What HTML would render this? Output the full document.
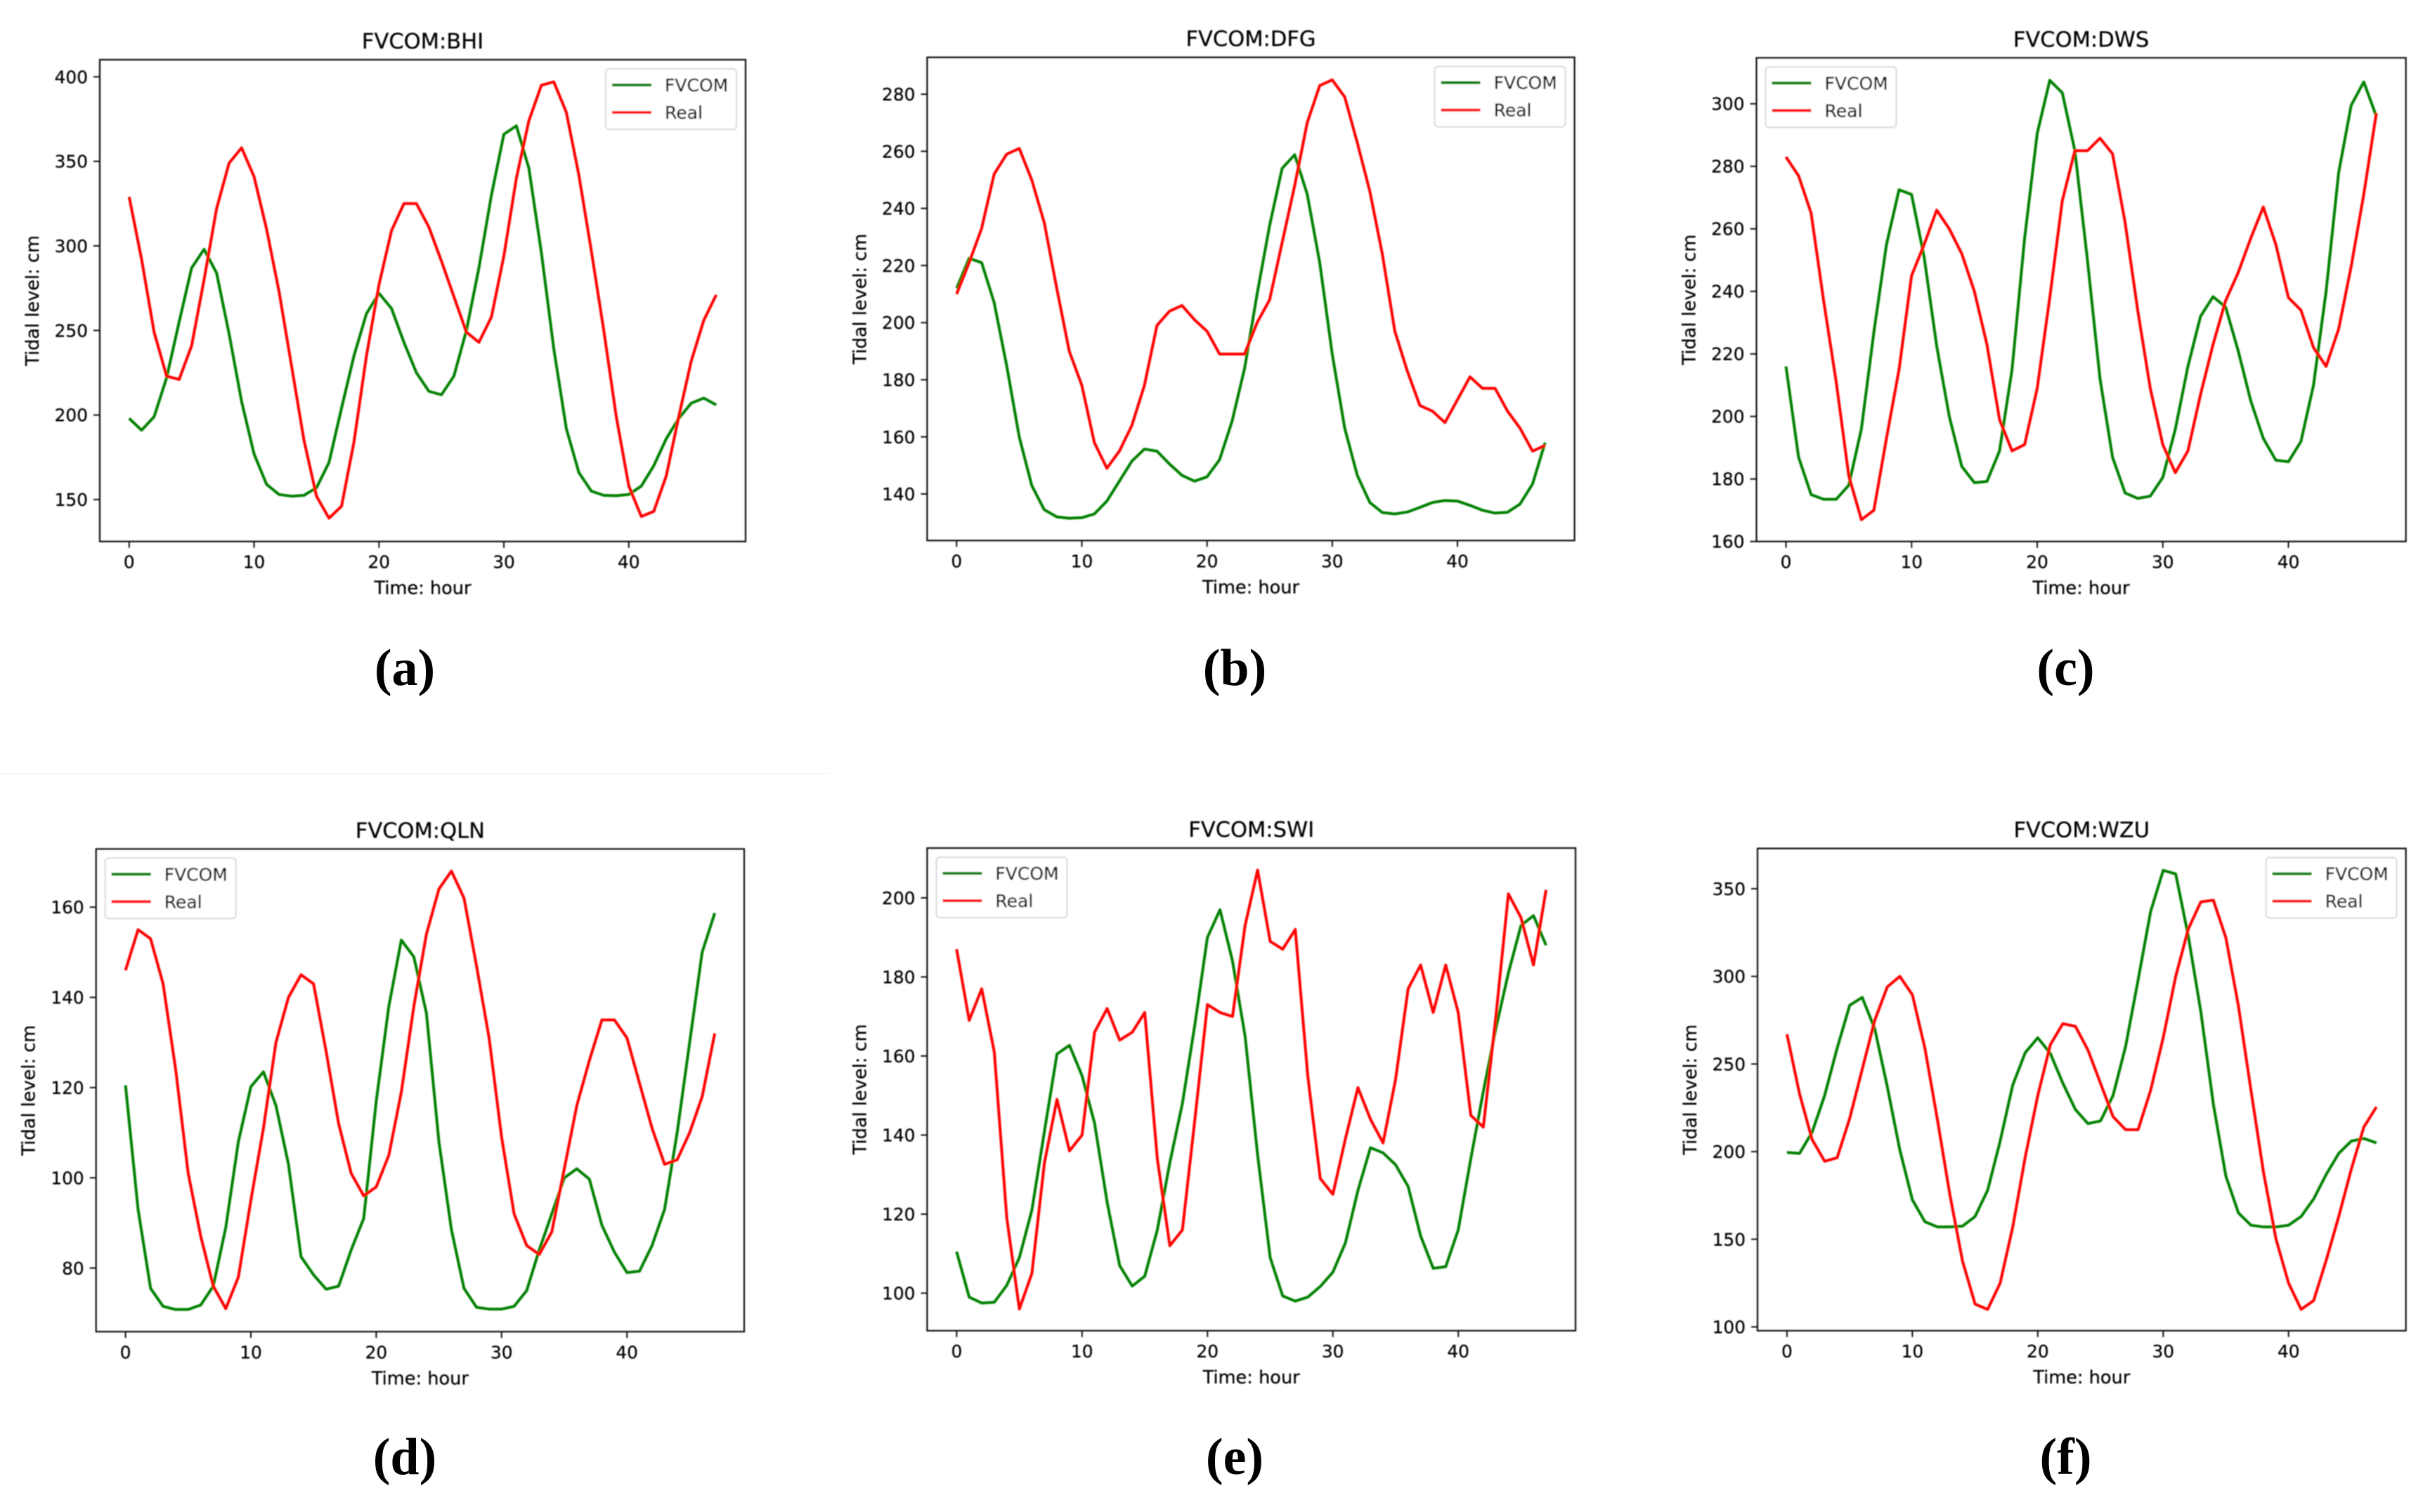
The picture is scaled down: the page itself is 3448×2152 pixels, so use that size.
<!DOCTYPE html>
<html lang="en">
<head>
<meta charset="utf-8">
<title>FVCOM tidal level charts</title>
<style>
html,body{margin:0;padding:0;background:#fff;width:3448px;height:2152px;overflow:hidden}
svg{display:block}
.chart text{font-family:"DejaVu Sans","Liberation Sans",sans-serif;fill:#000;stroke:#000;stroke-width:0.25}
.caption{font-family:"Liberation Serif",serif;font-weight:bold;font-size:74px;fill:#000;text-anchor:middle}
</style>
</head>
<body>
<svg id="figure" xmlns="http://www.w3.org/2000/svg" width="3448" height="2152" viewBox="0 0 3448 2152">
  <defs><filter id="soft" x="-5%" y="-5%" width="110%" height="110%"><feGaussianBlur stdDeviation="0.7"/></filter></defs>
  <rect x="0" y="0" width="3448" height="2152" fill="#ffffff"/>
  <rect x="0" y="1100" width="1180" height="1.5" fill="#f8f3f3"/>
  <text class="caption" x="576" y="975">(a)</text>
  <text class="caption" x="1757" y="975">(b)</text>
  <text class="caption" x="2939.5" y="975">(c)</text>
  <text class="caption" x="576" y="2098">(d)</text>
  <text class="caption" x="1757" y="2098">(e)</text>
  <text class="caption" x="2939.5" y="2098">(f)</text>
</svg>
<script>
const xTickLabels = [0, 10, 20, 30, 40];
const legendLabels = ['FVCOM', 'Real'];
const xAxisTitle = 'Time: hour';
const yAxisTitle = 'Tidal level: cm';

const titleBHI = 'FVCOM:BHI';
const yTicksBHI = [150, 200, 250, 300, 350, 400];
const fvcomBHI = [198,191,199,222,255,287,298,284,248,208,177,159,153,152,152.5,157,172,204,235,260,272,263,243,225,214,212,223,250,287,330,366,371,346,296,239,192,166,155,152.5,152.3,153,158,170,186,198,207,210,206];
const realBHI = [329,292,249,223,221,241,280,322,349,358,341,310,273,229,185,152,139,146,184,235,277,309,325,325,311,291,270,249,243,258,294,340,374,395,397,379,342,297,250,199,158,140,143,164,199,232,256,271];

const titleDFG = 'FVCOM:DFG';
const yTicksDFG = [140, 160, 180, 200, 220, 240, 260, 280];
const fvcomDFG = [212,222.5,221,207,185,160,143,134.5,132,131.5,131.7,133,137.5,144.5,151.5,155.7,155,150.5,146.5,144.5,146,152,165.5,184,210,234,254,258.8,245,221,189,163,146.5,137,133.5,133,133.7,135.3,137,137.7,137.5,136,134.3,133.3,133.6,136.5,143.5,158];
const realDFG = [210,221,233,252,259,261,250,235,212,190,178,158,149,155,164,178,199,204,206,201,197,189,189,189,200,208,228,248,270,283,285,279,263,246,224,197,183,171,169,165,173,181,177,177,169,163,155,157];

const titleDWS = 'FVCOM:DWS';
const yTicksDWS = [160, 180, 200, 220, 240, 260, 280, 300];
const fvcomDWS = [216,187,175,173.5,173.5,178,196,227,255,272.5,271,251,222.5,200,184,178.8,179.2,189,215,257,290.5,307.5,303.5,285,250,212,187,175.5,173.8,174.5,180.5,196,216,232,238.3,235,221,205,193,186,185.5,192,210,240,278,299.5,307,296];
const realDWS = [283,277,265,237,211,181,167,170,193,215,245,255,266,260,252,240,223,199,189,191,209,238,269,285,285,289,284,262,234,209,191,182,189,207,223,237,246,257,267,255,238,234,222,216,228,248,271,297];

const titleQLN = 'FVCOM:QLN';
const yTicksQLN = [80, 100, 120, 140, 160];
const fvcomQLN = [120.5,93,75.5,71.5,70.8,70.8,71.8,76,89,108,120.2,123.5,116,103,82.5,78.5,75.3,76,84,91,117,138,152.7,149,136.5,108,88.5,75.5,71.3,70.9,70.9,71.5,75,84,92,100,102,99.7,89.5,83.5,79,79.3,85,93,110,130,150,158.7];
const realQLN = [146,155,153,143,124,101,87,76,71,78,95,111,130,140,145,143,128,112,101,96,98,105,119,138,154,164,168,162,147,131,109,92,85,83,88,102,116,126,135,135,131,121,111,103,104,110,118,132];

const titleSWI = 'FVCOM:SWI';
const yTicksSWI = [100, 120, 140, 160, 180, 200];
const fvcomSWI = [110.5,99,97.5,97.7,102,109,121,141,160.5,162.7,155,143,123,107,101.8,104.3,116,133,148,168,190,197,184,165,135,109,99.3,98,99,101.7,105.3,112.7,126,136.8,135.5,132.5,127,114.5,106.3,106.7,116,134,151,167,181,193,195.5,188];
const realSWI = [187,169,177,161,119,96,105,133,149,136,140,166,172,164,166,171,134,112,116,144,173,171,170,193,207,189,187,192,155,129,125,139,152,144,138,154,177,183,171,183,171,145,142,170,201,195,183,202];

const titleWZU = 'FVCOM:WZU';
const yTicksWZU = [100, 150, 200, 250, 300, 350];
const fvcomWZU = [199.5,199,211,232,259,283.5,288,270,237,201,172.5,160,157,157,157.5,163,178,206,238,256.5,265,256,239,224,216,217.5,232,260,298,337,360.5,358.5,323,280,227,186,165,158,157,157,158,163,173,187,199,206,207.5,205];
const realWZU = [267,233,207,194.5,196.5,219,247,275,294,300,289.5,259,218,175,137.5,113,110,125,157,197,232,261,273,271.5,258,239,220,212.5,212.5,235,265,300,327,342.5,343.5,322,283,235,188,150,125,110,115,138,163,190,214,225.5];

const panels = [
  {key:'bhi', title:titleBHI, yTicks:yTicksBHI, fvcom:fvcomBHI, real:realBHI, box:{l:142,r:1061,t:85,b:770.7}, yDomain:[125.2,410.1], legendSide:'right'},
  {key:'dfg', title:titleDFG, yTicks:yTicksDFG, fvcom:fvcomDFG, real:realDFG, box:{l:1319.4,r:2240.6,t:81.6,b:769.3}, yDomain:[123.7,292.9], legendSide:'right'},
  {key:'dws', title:titleDWS, yTicks:yTicksDWS, fvcom:fvcomDWS, real:realDWS, box:{l:2499.5,r:3423.6,t:82.3,b:770.7}, yDomain:[160,314.7], legendSide:'left'},
  {key:'qln', title:titleQLN, yTicks:yTicksQLN, fvcom:fvcomQLN, real:realQLN, box:{l:136.7,r:1059,t:1208.3,b:1895.3}, yDomain:[65.9,172.9], legendSide:'left'},
  {key:'swi', title:titleSWI, yTicks:yTicksSWI, fvcom:fvcomSWI, real:realSWI, box:{l:1319.4,r:2242,t:1207,b:1894}, yDomain:[90.5,212.6], legendSide:'left'},
  {key:'wzu', title:titleWZU, yTicks:yTicksWZU, fvcom:fvcomWZU, real:realWZU, box:{l:2501,r:3423.6,t:1207.6,b:1894}, yDomain:[97.8,373], legendSide:'right'}
];

const xDomain = [-2.35, 49.35];
const colors = {fvcom:'#008000', real:'#ff0000', axis:'#111111'};
const NS = 'http://www.w3.org/2000/svg';
const figure = document.getElementById('figure');

function make(tag, parent, attrs, text) {
  const node = document.createElementNS(NS, tag);
  for (const k in attrs) node.setAttribute(k, attrs[k]);
  if (text !== undefined) node.textContent = text;
  parent.appendChild(node);
  return node;
}

function drawPanel(p) {
  const b = p.box;
  const xScale = v => b.l + (v - xDomain[0]) * (b.r - b.l) / (xDomain[1] - xDomain[0]);
  const yScale = v => b.b - (v - p.yDomain[0]) * (b.b - b.t) / (p.yDomain[1] - p.yDomain[0]);
  const linePoints = arr => arr.map((v, i) => xScale(i).toFixed(1) + ',' + yScale(v).toFixed(1)).join(' ');

  let el = make('g', figure, {class:'chart', filter:'url(#soft)'});
  
  
  const g = el;

  el = make('text', g, {x:(b.l + b.r) / 2, y:b.t - 16, 'text-anchor':'middle', 'font-size':30.5}, p.title);
  
  

  el = make('polyline', g, {points:linePoints(p.fvcom), fill:'none', stroke:colors.fvcom, 'stroke-width':4, 'stroke-linejoin':'round'});
  
  

  el = make('polyline', g, {points:linePoints(p.real), fill:'none', stroke:colors.real, 'stroke-width':4, 'stroke-linejoin':'round'});
  
  

  el = make('rect', g, {x:b.l, y:b.t, width:b.r - b.l, height:b.b - b.t, fill:'none', stroke:colors.axis, 'stroke-width':2.2});
  
  

  xTickLabels.forEach(v => {
    const px = xScale(v);
    let t = make('line', g, {x1:px, x2:px, y1:b.b, y2:b.b + 9, stroke:colors.axis, 'stroke-width':2});
    
    
    t = make('text', g, {x:px, y:b.b + 38, 'text-anchor':'middle', 'font-size':24.8}, String(v));
    
    
  });

  p.yTicks.forEach(v => {
    const py = yScale(v);
    let t = make('line', g, {x1:b.l - 9, x2:b.l, y1:py, y2:py, stroke:colors.axis, 'stroke-width':2});
    
    
    t = make('text', g, {x:b.l - 17, y:py + 9, 'text-anchor':'end', 'font-size':24.8}, String(v));
    
    
  });

  el = make('text', g, {x:(b.l + b.r) / 2, y:b.b + 75, 'text-anchor':'middle', 'font-size':25.6}, xAxisTitle);
  
  

  const ymid = (b.t + b.b) / 2;
  const yx = b.l - 87;
  el = make('text', g, {x:yx, y:ymid, 'text-anchor':'middle', 'font-size':25.6, transform:'rotate(-90 ' + yx + ' ' + ymid + ')'}, yAxisTitle);
  
  

  const legendW = 186, legendH = 86, legendPad = 13;
  const lx = p.legendSide === 'right' ? b.r - legendPad - legendW : b.l + legendPad;
  const ly = b.t + legendPad;
  el = make('g', g, {});
  
  
  const lg = el;
  el = make('rect', lg, {x:lx, y:ly, width:legendW, height:legendH, rx:5, ry:5, fill:'#ffffff', stroke:'#d9d9d9', 'stroke-width':2});
  
  

  legendLabels.forEach((label, i) => {
    const rowY = ly + 23 + i * 39;
    const stroke = i === 0 ? colors.fvcom : colors.real;
    let t = make('line', lg, {x1:lx + 9, x2:lx + 65, y1:rowY, y2:rowY, stroke:stroke, 'stroke-width':4});
    
    
    t = make('text', lg, {x:lx + 84, y:rowY + 9, 'font-size':25}, label);
    
    
  });
}

panels.forEach(drawPanel);
</script>
</body>
</html>
